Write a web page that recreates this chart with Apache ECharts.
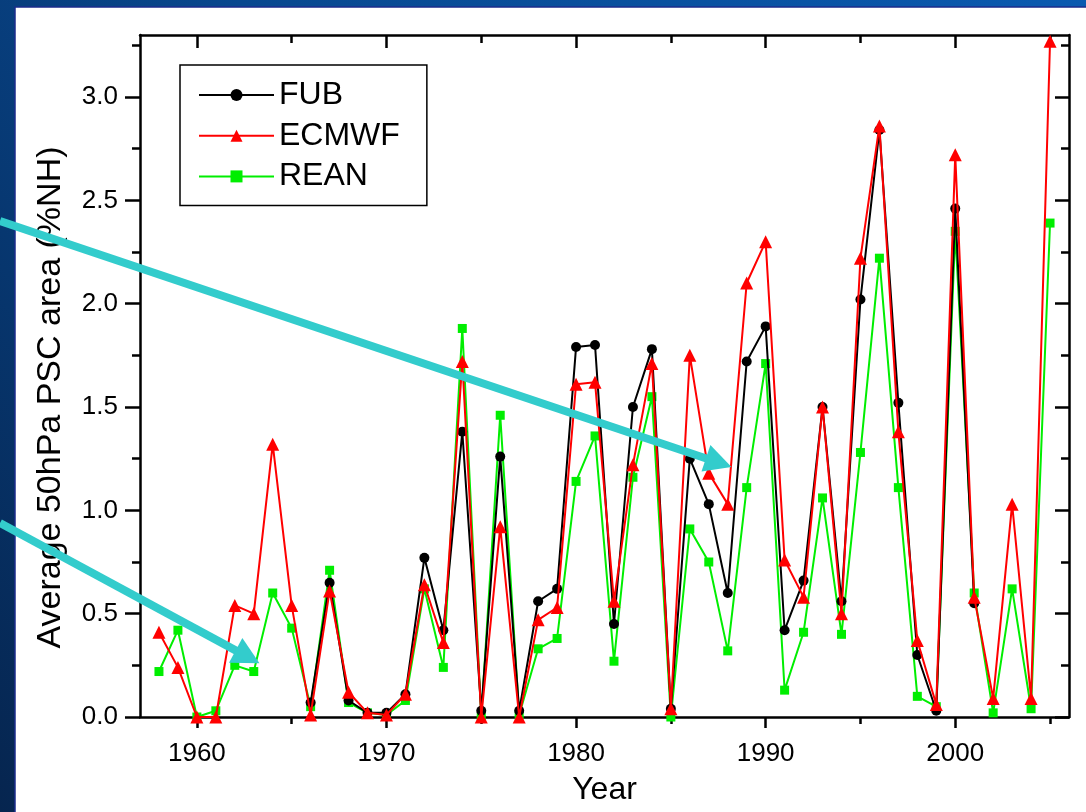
<!DOCTYPE html>
<html>
<head>
<meta charset="utf-8">
<title>Average 50hPa PSC area</title>
<script src="https://cdn.jsdelivr.net/npm/echarts@6/dist/echarts.min.js"></script>
<style>
  html, body { margin: 0; padding: 0; background: #0a3a7a; }
  #chart { width: 1086px; height: 812px; }
</style>
</head>
<body>
<div id="chart"></div>
<script>
// Winters 1958-2005
const years = [
  1958, 1959, 1960, 1961, 1962, 1963, 1964, 1965, 1966, 1967,
  1968, 1969, 1970, 1971, 1972, 1973, 1974, 1975, 1976, 1977,
  1978, 1979, 1980, 1981, 1982, 1983, 1984, 1985, 1986, 1987,
  1988, 1989, 1990, 1991, 1992, 1993, 1994, 1995, 1996, 1997,
  1998, 1999, 2000, 2001, 2002, 2003, 2004, 2005
];

// Average 50 hPa PSC area, % of the northern hemisphere
const fub = [
  null, null, null, null, null, null, null, null, 0.07, 0.65,
  0.08, 0.02, 0.02, 0.11, 0.77, 0.42, 1.38, 0.03, 1.26, 0.03,
  0.56, 0.62, 1.79, 1.80, 0.45, 1.50, 1.78, 0.04, 1.25, 1.03,
  0.60, 1.72, 1.89, 0.42, 0.66, 1.50, 0.56, 2.02, 2.84, 1.52,
  0.30, 0.03, 2.46, 0.55, null, null, null, null
];
const ecmwf = [
  0.41, 0.24, 0.00, 0.00, 0.54, 0.50, 1.32, 0.54, 0.01, 0.61,
  0.12, 0.02, 0.01, 0.11, 0.64, 0.36, 1.72, 0.00, 0.92, 0.00,
  0.47, 0.53, 1.61, 1.62, 0.56, 1.22, 1.71, 0.04, 1.75, 1.18,
  1.03, 2.10, 2.30, 0.76, 0.58, 1.50, 0.50, 2.22, 2.86, 1.38,
  0.37, 0.06, 2.72, 0.58, 0.09, 1.03, 0.09, 3.27
];
const rean = [
  0.22, 0.42, 0.00, 0.03, 0.25, 0.22, 0.60, 0.43, 0.05, 0.71,
  0.07, 0.02, 0.01, 0.08, 0.62, 0.24, 1.88, 0.00, 1.46, 0.01,
  0.33, 0.38, 1.14, 1.36, 0.27, 1.16, 1.55, 0.00, 0.91, 0.75,
  0.32, 1.11, 1.71, 0.13, 0.41, 1.06, 0.40, 1.28, 2.22, 1.11,
  0.10, 0.05, 2.35, 0.60, 0.02, 0.62, 0.04, 2.39
];

// Axis ranges and tick positions
const xRange = [1957, 2006];
const yRange = [0, 3.3];
const xMajorTicks = [1960, 1970, 1980, 1990, 2000];
const xMinorTicks = [1965, 1975, 1985, 1995, 2005];
const yMajorTicks = [0, 0.5, 1.0, 1.5, 2.0, 2.5, 3.0];
const yMinorTicks = [0.25, 0.75, 1.25, 1.75, 2.25, 2.75, 3.25];

// Arrow tips in data units (year, %NH); tails start at the page's left edge
const arrowTips = [[1988.2, 1.21], [1963.3, 0.26]];
const arrowTailY = [221, 523];

const pairs = (vals) => years.map((y, i) => [y, vals[i]]).filter(p => p[1] !== null);

const FONT = '"Liberation Sans", Arial, Helvetica, sans-serif';
const AXIS_W = 2.5;

function xAxisDef(position, ticks, len, inside, labels) {
  return {
    type: 'value', position, min: xRange[0], max: xRange[1],
    axisLine: { show: ticks === xMajorTicks, onZero: false, lineStyle: { color: '#000', width: AXIS_W } },
    axisTick: { show: true, inside, length: len, customValues: ticks, lineStyle: { color: '#000', width: AXIS_W } },
    axisLabel: labels ? {
      show: true, customValues: ticks, margin: 24,
      color: '#000', fontSize: 26, fontFamily: FONT,
      formatter: (v) => String(v)
    } : { show: false },
    splitLine: { show: false }
  };
}
function yAxisDef(position, ticks, len, inside, labels) {
  return {
    type: 'value', position, min: yRange[0], max: yRange[1],
    axisLine: { show: ticks === yMajorTicks, onZero: false, lineStyle: { color: '#000', width: AXIS_W } },
    axisTick: { show: true, inside, length: len, customValues: ticks, lineStyle: { color: '#000', width: AXIS_W } },
    axisLabel: labels ? {
      show: true, customValues: ticks, margin: 22,
      color: '#000', fontSize: 26, fontFamily: FONT,
      formatter: (v) => v.toFixed(1)
    } : { show: false },
    splitLine: { show: false }
  };
}

const xBottom = xAxisDef('bottom', xMajorTicks, 11, false, true);
xBottom.name = 'Year';
xBottom.nameLocation = 'middle';
xBottom.nameGap = 57;
xBottom.nameTextStyle = { color: '#000', fontSize: 32, fontFamily: FONT };

const yLeft = yAxisDef('left', yMajorTicks, 15, false, true);
yLeft.name = 'Average 50hPa PSC area (%NH)';
yLeft.nameLocation = 'middle';
yLeft.nameGap = 72;
yLeft.nameTextStyle = { color: '#000', fontSize: 34, fontFamily: FONT, padding: [0, 43, 0, 0] };

const chart = echarts.init(document.getElementById('chart'), null, { renderer: 'canvas' });

const option = {
  animation: false,
  backgroundColor: {
    type: 'linear', x: 1, y: 0, x2: 0, y2: 1,
    colorStops: [
      { offset: 0, color: '#0a5ab0' },
      { offset: 0.5, color: '#08488f' },
      { offset: 1, color: '#06254f' }
    ]
  },
  textStyle: { fontFamily: FONT },
  grid: { left: 140, right: 17, top: 35, bottom: 95, containLabel: false },
  xAxis: [
    xBottom,
    xAxisDef('bottom', xMinorTicks, 7, false, false),
    xAxisDef('top', xMajorTicks, 13, true, false),
    xAxisDef('top', xMinorTicks, 8, true, false)
  ],
  yAxis: [
    yLeft,
    yAxisDef('left', yMinorTicks, 8, false, false),
    yAxisDef('right', yMajorTicks, 14, true, false),
    yAxisDef('right', yMinorTicks, 8, true, false)
  ],
  legend: {
    orient: 'vertical',
    left: 180, top: 65,
    padding: [13, 27, 12, 18],
    itemWidth: 75, itemHeight: 15, itemGap: 6.7,
    backgroundColor: '#fff',
    borderColor: '#000', borderWidth: 1.5, borderRadius: 0,
    textStyle: { color: '#000', fontSize: 32, lineHeight: 34, fontFamily: FONT },
    data: ['FUB', 'ECMWF', 'REAN']
  },
  series: [
    {
      name: 'REAN', type: 'line', data: pairs(rean), z: 2,
      symbol: 'rect', symbolSize: 9,
      lineStyle: { color: '#00ee00', width: 2 },
      itemStyle: { color: '#00ee00' }
    },
    {
      name: 'FUB', type: 'line', data: pairs(fub), z: 3,
      symbol: 'circle', symbolSize: 10,
      lineStyle: { color: '#000', width: 2 },
      itemStyle: { color: '#000' }
    },
    {
      name: 'ECMWF', type: 'line', data: pairs(ecmwf), z: 4,
      symbol: 'triangle', symbolSize: 13,
      lineStyle: { color: '#ff0000', width: 2 },
      itemStyle: { color: '#ff0000' }
    }
  ]
};

chart.setOption(option);

// White slide panel behind the plot, and the two pointer arrows on top
function arrowShapes(tip, tailY, color) {
  const [tx, ty] = chart.convertToPixel({ xAxisIndex: 0, yAxisIndex: 0 }, tip);
  const sx = 0, sy = tailY;
  const dx = tx - sx, dy = ty - sy;
  const len = Math.hypot(dx, dy);
  const ux = dx / len, uy = dy / len;
  const headLen = 27, headHalf = 14;
  const bx = tx - ux * headLen, by = ty - uy * headLen;
  const px = -uy, py = ux;
  return [
    {
      type: 'line', z: 100,
      shape: { x1: sx, y1: sy, x2: bx + ux * 2, y2: by + uy * 2 },
      style: { stroke: color, lineWidth: 8 }
    },
    {
      type: 'polygon', z: 100,
      shape: { points: [[tx, ty], [bx + px * headHalf, by + py * headHalf], [bx - px * headHalf, by - py * headHalf]] },
      style: { fill: color }
    }
  ];
}

const elements = [
  {
    type: 'rect', z: -100, silent: true,
    shape: { x: 15, y: 7, width: 1086 - 15 + 2, height: 812 - 7 + 2 },
    style: { fill: '#ffffff', stroke: '#1b2c8c', lineWidth: 1.5 }
  }
];
arrowTips.forEach((tip, i) => {
  elements.push(...arrowShapes(tip, arrowTailY[i], '#33cccc'));
});
chart.setOption({ graphic: { elements } });
</script>
</body>
</html>
